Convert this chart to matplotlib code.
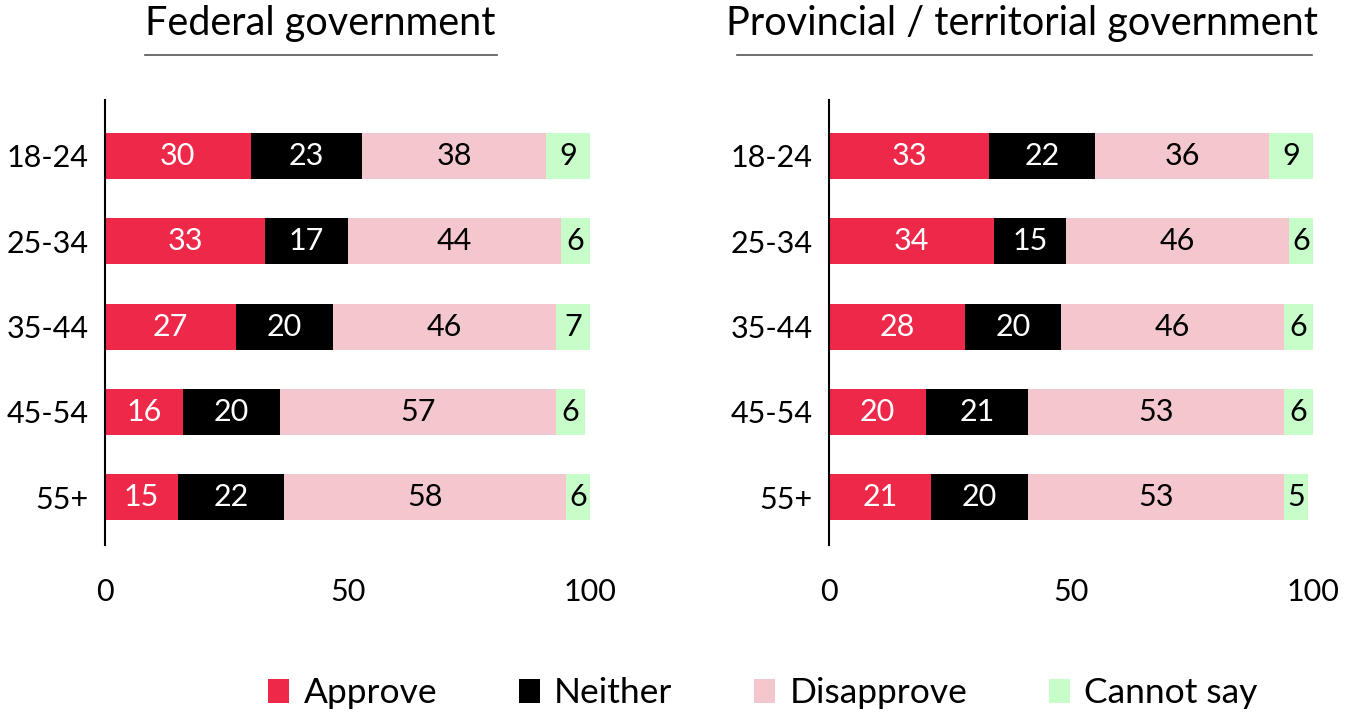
import matplotlib.pyplot as plt
from matplotlib.lines import Line2D
from matplotlib.patches import Patch
import numpy as np

plt.rcParams['font.family'] = ['Lato', 'DejaVu Sans']

ages = ['18-24', '25-34', '35-44', '45-54', '55+']
series = ['Approve', 'Neither', 'Disapprove', 'Cannot say']
colors = ['#EE2849', '#000000', '#F4C6CD', '#C6FDC8']
text_colors = ['white', 'white', 'black', 'black']

fed_approve = [30, 33, 27, 16, 15]
fed_neither = [23, 17, 20, 20, 22]
fed_disapprove = [38, 44, 46, 57, 58]
fed_cannot = [9, 6, 7, 6, 6]

prov_approve = [33, 34, 28, 20, 21]
prov_neither = [22, 15, 20, 21, 20]
prov_disapprove = [36, 46, 46, 53, 53]
prov_cannot = [9, 6, 6, 6, 5]

fig = plt.figure(figsize=(13.55, 7.17), dpi=100)


def draw_panel(ax, data):
    y = np.arange(len(ages))
    left = np.zeros(len(ages))
    for vals, col, tcol in zip(data, colors, text_colors):
        vals = np.array(vals, dtype=float)
        bars = ax.barh(y, vals, left=left, height=0.54, color=col)
        ax.bar_label(bars, labels=[str(int(v)) for v in vals], label_type='center',
                     color=tcol, fontsize=22)
        left += vals
    ax.set_ylim(4.56, -0.66)
    ax.set_xlim(0, 100)
    ax.set_yticks(y)
    ax.set_yticklabels(ages)
    ax.set_xticks([0, 50, 100])
    ax.tick_params(length=0, labelsize=22, pad=12)
    ax.tick_params(axis='x', pad=24)
    for s in ['top', 'right', 'bottom']:
        ax.spines[s].set_visible(False)
    ax.spines['left'].set_linewidth(1.5)


ax1 = fig.add_axes([0.0775, 0.240, 0.358, 0.621])
draw_panel(ax1, [fed_approve, fed_neither, fed_disapprove, fed_cannot])
ax2 = fig.add_axes([0.612, 0.240, 0.357, 0.621])
draw_panel(ax2, [prov_approve, prov_neither, prov_disapprove, prov_cannot])

# panel titles with underline
fig.text(0.236, 0.967, 'Federal government', ha='center', va='center', fontsize=28.5)
fig.add_artist(Line2D([0.107, 0.367], [0.923, 0.923], color='#555555', lw=1.2))
fig.text(0.754, 0.967, 'Provincial / territorial government', ha='center', va='center', fontsize=28.5)
fig.add_artist(Line2D([0.544, 0.968], [0.923, 0.923], color='#555555', lw=1.2))

handles = [Patch(facecolor=c, label=s) for c, s in zip(colors, series)]
fig.legend(handles=handles, loc='center', bbox_to_anchor=(0.563, 0.033), ncol=4,
           frameon=False, fontsize=25.5, handlelength=0.6, handleheight=0.7,
           handletextpad=0.4, columnspacing=2.3)

fig.savefig('out.png', dpi=100)
